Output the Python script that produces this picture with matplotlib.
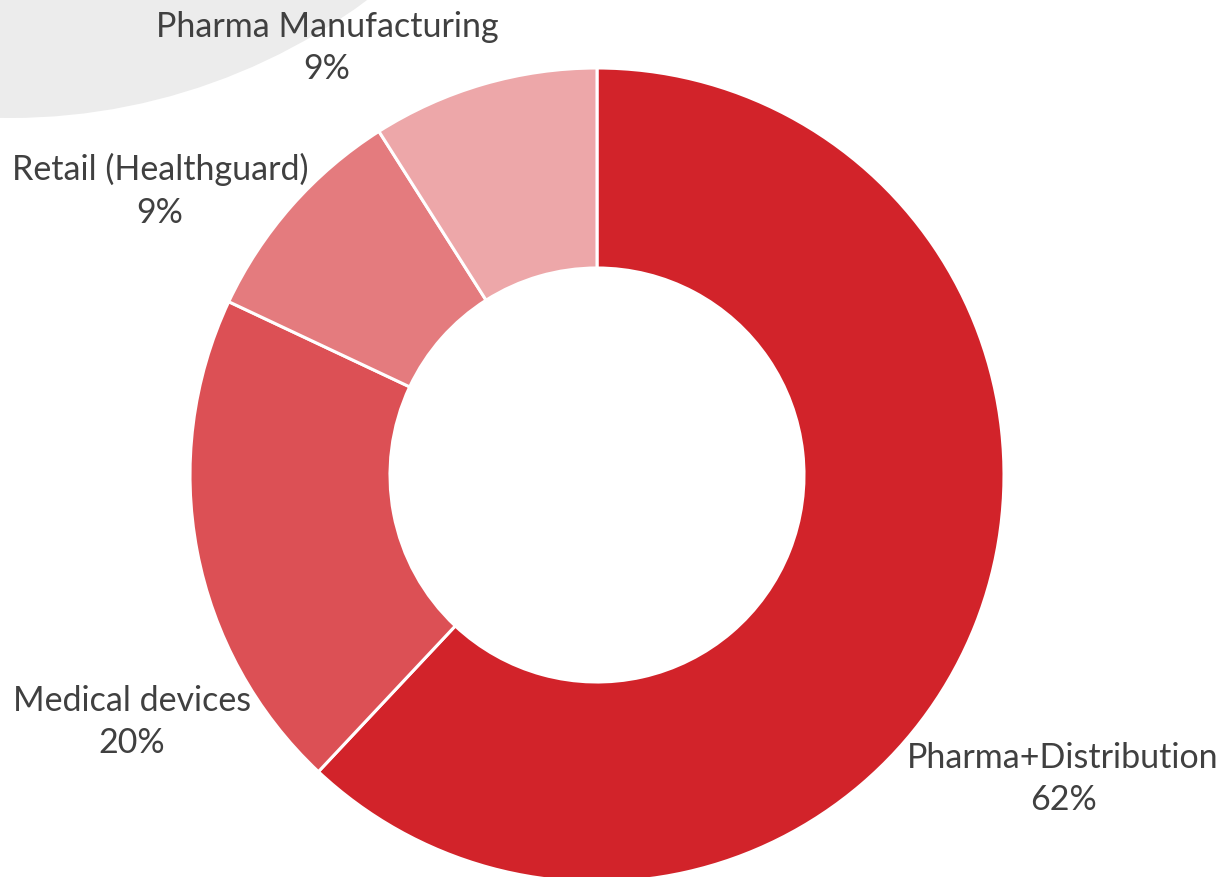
import matplotlib.pyplot as plt
from matplotlib.patches import Circle

# segment shares (%)
segments = ["Pharma+Distribution", "Medical devices", "Retail (Healthguard)", "Pharma Manufacturing"]
shares = [62, 20, 9, 9]
colors = ["#D2232A", "#DC5055", "#E47B7E", "#EDA7A9"]

# label anchor points (pixel coords, y up)
label_pos = [(1063, 135), (132, 192), (160, 724), (327, 866)]

plt.rcParams["font.family"] = ["Lato", "DejaVu Sans"]

fig = plt.figure(figsize=(12.29, 8.77), dpi=100)
ax = fig.add_axes([0, 0, 1, 1])
ax.set_xlim(0, 1229)
ax.set_ylim(0, 877)
ax.set_aspect("equal")
ax.axis("off")

# light grey backdrop arc in the upper-left corner
ax.add_patch(Circle((10, 877 + 482), 600, facecolor="#ECECEC", edgecolor="none", zorder=0))

ax.pie(shares, colors=colors, startangle=90, counterclock=False,
       center=(597, 402), radius=407,
       wedgeprops=dict(width=200, edgecolor="white", linewidth=2.2))
ax.set_xlim(0, 1229)
ax.set_ylim(0, 877)

for name, val, (x, y) in zip(segments, shares, label_pos):
    ax.text(x, y, f"{name}\n{val}%", ha="center", va="top", fontsize=24.5,
            color="#404040", linespacing=1.4)

fig.savefig("out.png", dpi=100)
